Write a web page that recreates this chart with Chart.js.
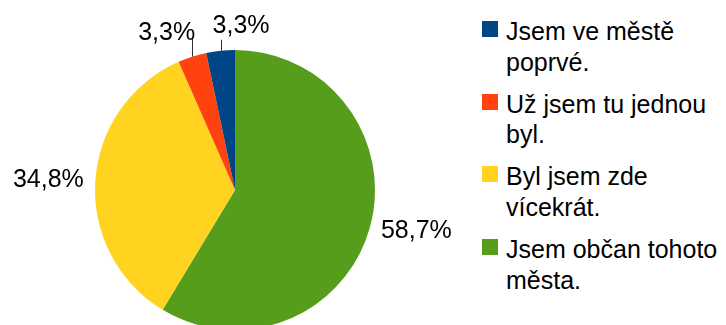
<!DOCTYPE html>
<html>
<head>
<meta charset="utf-8">
<script src="https://cdn.jsdelivr.net/npm/chart.js@4/dist/chart.umd.min.js"></script>
<style>
  html, body { margin: 0; padding: 0; background: #fff; overflow: hidden; }
  #wrap { position: relative; width: 726px; height: 325px; }
  #pie { position: absolute; left: 0; top: 0; }
  #legend { position: absolute; left: 482px; top: 0; font-family: "Liberation Sans", Arial, sans-serif; font-size: 25px; color: #000; }
  .item { position: absolute; left: 0; width: 244px; }
  .box { position: absolute; left: 0; top: 5px; width: 16px; height: 16px; }
  .txt { position: absolute; left: 24px; top: 0; line-height: 30.5px; white-space: nowrap; }
</style>
</head>
<body>
<div id="wrap">
  <canvas id="pie" width="470" height="380"></canvas>
  <div id="legend"></div>
</div>
<script>
// odpovědi v pořadí legendy
const categories = [
  ['Jsem ve městě', 'poprvé.'],
  ['Už jsem tu jednou', 'byl.'],
  ['Byl jsem zde', 'vícekrát.'],
  ['Jsem občan tohoto', 'města.']
];
const shares = [3.3, 3.3, 34.8, 58.7];
const colors = ['#004586', '#ff420e', '#ffd320', '#579d1c'];

// koláč se kreslí od 12 hodin po směru, proto obrácené pořadí
const pieLabels = categories.slice().reverse();
const pieValues = shares.slice().reverse();
const pieColors = colors.slice().reverse();

const fmt = v => v.toFixed(1).replace('.', ',') + '%';

// popisky hodnot kolem koláče, malé výseče s vodicí čarou
const valueLabels = {
  id: 'valueLabels',
  afterDatasetsDraw(chart) {
    const ctx = chart.ctx;
    const meta = chart.getDatasetMeta(0);
    ctx.save();
    ctx.font = '25px "Liberation Sans", Arial, sans-serif';
    ctx.fillStyle = '#000';
    ctx.strokeStyle = '#333';
    ctx.lineWidth = 1;
    meta.data.forEach((arc, i) => {
      const p = arc.getProps(['x', 'y', 'startAngle', 'endAngle', 'outerRadius'], true);
      const mid = (p.startAngle + p.endAngle) / 2;
      const cos = Math.cos(mid), sin = Math.sin(mid);
      const text = fmt(pieValues[i]);
      const frac = pieValues[i] / 100;
      if (frac > 0.05) {
        const r = p.outerRadius + 11.5;
        ctx.textAlign = cos >= 0 ? 'left' : 'right';
        ctx.textBaseline = 'middle';
        ctx.fillText(text, p.x + cos * r, p.y + sin * r);
      } else {
        const ex = p.x + cos * p.outerRadius;
        const ey = p.y + sin * p.outerRadius;
        // první malá výseč (modrá) má kratší čáru a text vpravo
        const first = i === pieValues.length - 1;
        const len = first ? 11 : 19;
        const x0 = Math.round(ex) + 0.5;
        ctx.beginPath();
        ctx.moveTo(x0, ey);
        ctx.lineTo(x0, ey - len);
        ctx.stroke();
        ctx.textBaseline = 'alphabetic';
        if (first) {
          ctx.textAlign = 'left';
          ctx.fillText(text, ex - 8, ey - len - 7);
        } else {
          ctx.textAlign = 'right';
          ctx.fillText(text, ex + 3, ey - len + 2);
        }
      }
    });
    ctx.restore();
  }
};

new Chart(document.getElementById('pie'), {
  type: 'pie',
  data: {
    labels: pieLabels,
    datasets: [{
      data: pieValues,
      backgroundColor: pieColors,
      borderWidth: 0
    }]
  },
  options: {
    responsive: false,
    animation: false,
    layout: { padding: { left: 95, right: 95, top: 50, bottom: 50 } },
    plugins: {
      legend: { display: false },
      tooltip: { enabled: false }
    }
  },
  plugins: [valueLabels]
});

// legenda vpravo
const legend = document.getElementById('legend');
categories.forEach((lines, i) => {
  const item = document.createElement('div');
  item.className = 'item';
  item.style.top = (16 + i * 72.7) + 'px';
  const box = document.createElement('div');
  box.className = 'box';
  box.style.background = colors[i];
  const txt = document.createElement('div');
  txt.className = 'txt';
  txt.innerHTML = lines.join('<br>');
  item.appendChild(box);
  item.appendChild(txt);
  legend.appendChild(item);
});
</script>
</body>
</html>
